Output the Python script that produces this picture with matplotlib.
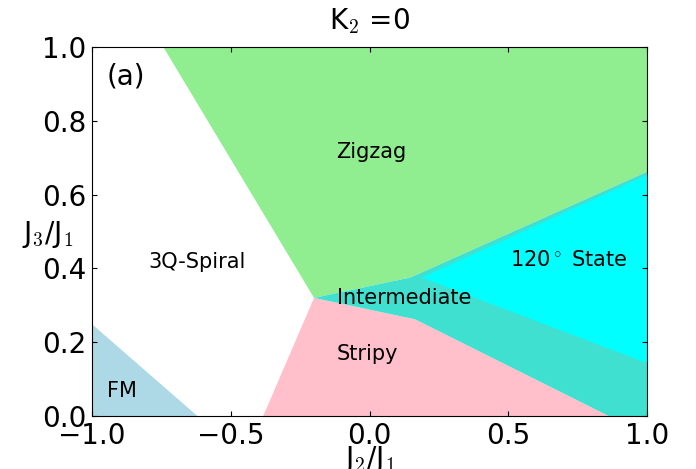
import matplotlib
matplotlib.use('Agg')
import matplotlib.pyplot as plt

# phase boundaries (J2/J1, J3/J1)
fm_x = [-1.0, -1.0, -0.62]
fm_y = [0.0, 0.249, 0.0]

zigzag_x = [-0.743, 1.0, 1.0, 0.146, -0.2]
zigzag_y = [1.0, 1.0, 0.662, 0.375, 0.32]

stripy_x = [-0.383, -0.2, 0.164, 0.861]
stripy_y = [0.0, 0.32, 0.262, 0.0]

inter_x = [-0.2, 0.146, 1.0, 1.0, 0.861, 0.164]
inter_y = [0.32, 0.375, 0.662, 0.0, 0.0, 0.262]

state120_x = [0.188, 1.0, 1.0]
state120_y = [0.375, 0.653, 0.143]

x_ticks = [-1.0, -0.5, 0.0, 0.5, 1.0]
y_ticks = [0.0, 0.2, 0.4, 0.6, 0.8, 1.0]

plt.rcParams['mathtext.fontset'] = 'cm'

fig = plt.figure(figsize=(6.96, 4.69), dpi=100)
ax = fig.add_axes([0.132, 0.113, 0.798, 0.787])

# Fill the phase regions
ax.fill(fm_x, fm_y, color='lightblue', lw=0)
ax.fill(zigzag_x, zigzag_y, color='lightgreen', lw=0)
ax.fill(stripy_x, stripy_y, color='pink', lw=0)
ax.fill(inter_x, inter_y, color='turquoise', lw=0)
ax.fill(state120_x, state120_y, color='cyan', lw=0)

# Phase names
ax.text(-0.947, 0.921, '(a)', fontsize=20, va='center')
ax.text(-0.12, 0.715, 'Zigzag', fontsize=15, va='center')
ax.text(-0.798, 0.417, '3Q-Spiral', fontsize=15, va='center')
ax.text(0.504, 0.423, r'120$^\circ$ State', fontsize=15, va='center')
ax.text(-0.116, 0.32, 'Intermediate', fontsize=15, va='center')
ax.text(-0.118, 0.168, 'Stripy', fontsize=15, va='center')
ax.text(-0.947, 0.069, 'FM', fontsize=15, va='center')

ax.set_xlim(-1, 1)
ax.set_ylim(0, 1)
ax.set_xticks(x_ticks)
ax.set_yticks(y_ticks)
ax.tick_params(direction='in', top=True, right=True, labelsize=20, pad=4)

ax.set_title(r'K$_2$ =0', fontsize=20, pad=13)
ax.set_xlabel(r'J$_2$/J$_1$', fontsize=20, labelpad=-4)
ax.set_ylabel(r'J$_3$/J$_1$', fontsize=20, rotation=0)
ax.yaxis.set_label_coords(-0.08, 0.45)

plt.savefig('out.png', dpi=100)
